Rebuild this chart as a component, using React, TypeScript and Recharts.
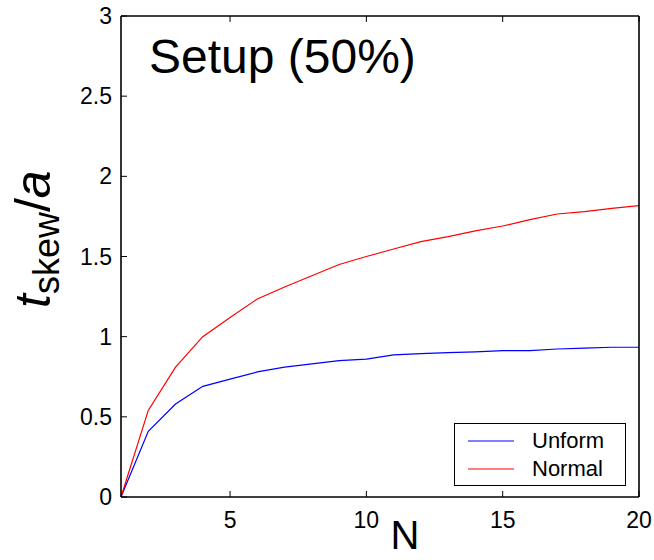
import React from "react"
import { Legend, Line, LineChart, XAxis, YAxis } from "recharts"

const nValues = [1, 2, 3, 4, 5, 6, 7, 8, 9, 10, 11, 12, 13, 14, 15, 16, 17, 18, 19, 20]
const uniform = [0, 0.41, 0.58, 0.69, 0.735, 0.78, 0.81, 0.83, 0.85, 0.86, 0.886, 0.894, 0.9, 0.905, 0.913, 0.913, 0.923, 0.928, 0.934, 0.934]
const normal = [0, 0.54, 0.81, 1.0, 1.12, 1.235, 1.31, 1.38, 1.45, 1.5, 1.547, 1.593, 1.624, 1.66, 1.69, 1.73, 1.765, 1.78, 1.8, 1.817]
const seriesNames = ["Unform", "Normal"]
const xTicks = [5, 10, 15, 20]
const yTicks = [0, 0.5, 1, 1.5, 2, 2.5, 3]
const yTickLabels = ["0", "0.5", "1", "1.5", "2", "2.5", "3"]

const data = nValues.map((n, i) => ({ n, uniform: uniform[i], normal: normal[i] }))

const FONT = "'Liberation Sans', Arial, Helvetica, sans-serif"
const TICK = 6

function BottomTick(props: any) {
  const { x, y, payload } = props
  return (
    <g>
      <line x1={x} y1={y} x2={x} y2={y - TICK} stroke="#000" strokeWidth={1} />
      <text x={x} y={y + 31} textAnchor="middle" fontSize={23} fontFamily={FONT} fill="#000">
        {payload.value}
      </text>
    </g>
  )
}

function TopTick(props: any) {
  const { x, y } = props
  return <line x1={x} y1={y} x2={x} y2={y + TICK} stroke="#000" strokeWidth={1} />
}

function LeftTick(props: any) {
  const { x, y, payload } = props
  const label = yTickLabels[yTicks.indexOf(payload.value)]
  return (
    <g>
      <line x1={x} y1={y} x2={x + TICK} y2={y} stroke="#000" strokeWidth={1} />
      <text x={x - 9} y={y + 8} textAnchor="end" fontSize={23} fontFamily={FONT} fill="#000">
        {label}
      </text>
    </g>
  )
}

function RightTick(props: any) {
  const { x, y } = props
  return <line x1={x} y1={y} x2={x - TICK} y2={y} stroke="#000" strokeWidth={1} />
}

function YLabel() {
  return (
    <text
      x={50}
      y={308}
      transform="rotate(-90, 50, 308)"
      fontFamily={FONT}
      fill="#000"
      fontSize={50}
    >
      <tspan fontStyle="italic">t</tspan>
      <tspan fontSize={36} dy={9}>skew</tspan>
      <tspan dy={-9}>/</tspan>
      <tspan fontStyle="italic">a</tspan>
    </text>
  )
}

function XLabel() {
  return (
    <text x={405} y={549} textAnchor="middle" fontFamily={FONT} fontSize={40} fill="#000">
      N
    </text>
  )
}

function LegendBox(props: any) {
  const items = [...(props.payload || [])].sort(
    (a: any, b: any) => seriesNames.indexOf(a.value) - seriesNames.indexOf(b.value)
  )
  return (
    <div
      style={{
        position: "relative",
        width: 172,
        height: 63,
        border: "1.5px solid #000",
        boxSizing: "border-box",
        background: "#fff",
        fontFamily: FONT,
      }}
    >
      {items.map((item: any, i: number) => (
        <div key={item.value} style={{ position: "absolute", left: 0, top: 3 + i * 28, height: 28, width: "100%" }}>
          <svg width={60} height={28} style={{ position: "absolute", left: 0, top: 0 }}>
            <line x1={13} y1={14} x2={59} y2={14} stroke={item.color} strokeWidth={1.2} />
          </svg>
          <span
            style={{
              position: "absolute",
              left: 77,
              top: 0,
              lineHeight: "28px",
              fontSize: 22,
              color: "#000",
              whiteSpace: "nowrap",
            }}
          >
            {item.value}
          </span>
        </div>
      ))}
    </div>
  )
}

export default function App() {
  return (
    <div style={{ position: "absolute", left: 0, top: 0, width: 654, height: 560, background: "#fff" }}>
      <LineChart
        width={654}
        height={560}
        data={data}
        margin={{ top: 11, right: 10, bottom: 33, left: 81 }}
      >
        <XAxis
          xAxisId="bottom"
          dataKey="n"
          type="number"
          domain={[1, 20]}
          ticks={xTicks}
          height={30}
          tickSize={0}
          tickMargin={0}
          tick={<BottomTick />}
          axisLine={{ stroke: "#000", strokeWidth: 1.6 }}
          label={<XLabel />}
        />
        <XAxis
          xAxisId="top"
          orientation="top"
          dataKey="n"
          type="number"
          domain={[1, 20]}
          ticks={xTicks}
          height={5}
          tickSize={0}
          tickMargin={0}
          tick={<TopTick />}
          axisLine={{ stroke: "#000", strokeWidth: 1.6 }}
        />
        <YAxis
          yAxisId="left"
          type="number"
          domain={[0, 3]}
          ticks={yTicks}
          width={40}
          tickSize={0}
          tickMargin={0}
          tick={<LeftTick />}
          axisLine={{ stroke: "#000", strokeWidth: 1.6 }}
          label={<YLabel />}
        />
        <YAxis
          yAxisId="right"
          orientation="right"
          type="number"
          domain={[0, 3]}
          ticks={yTicks}
          width={5}
          tickSize={0}
          tickMargin={0}
          tick={<RightTick />}
          axisLine={{ stroke: "#000", strokeWidth: 1.6 }}
        />
        <Legend
          layout="horizontal"
          verticalAlign="middle"
          align="center"
          content={<LegendBox />}
          wrapperStyle={{ position: "absolute", left: 454, top: 423, width: 172, height: 63 }}
        />
        <Line
          xAxisId="bottom"
          yAxisId="left"
          type="linear"
          dataKey="uniform"
          name={seriesNames[0]}
          stroke="#0000ff"
          strokeWidth={1.2}
          dot={false}
          isAnimationActive={false}
        />
        <Line
          xAxisId="bottom"
          yAxisId="left"
          type="linear"
          dataKey="normal"
          name={seriesNames[1]}
          stroke="#ff0000"
          strokeWidth={1.2}
          dot={false}
          isAnimationActive={false}
        />
      </LineChart>
      <div
        style={{
          position: "absolute",
          left: 149,
          top: 33,
          fontFamily: FONT,
          fontSize: 48,
          lineHeight: "48px",
          color: "#000",
          whiteSpace: "nowrap",
        }}
      >
        Setup (50%)
      </div>
    </div>
  )
}
